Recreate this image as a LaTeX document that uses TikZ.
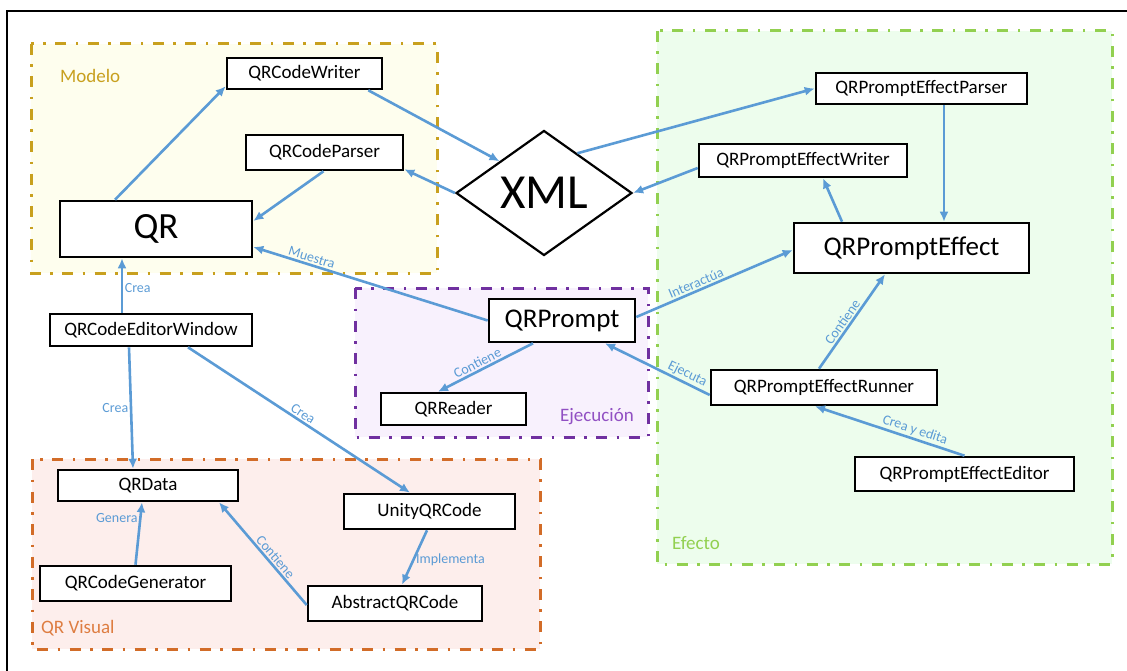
\documentclass[tikz,border=0pt]{standalone}
\usepackage{fontspec}
\setmainfont{Carlito}
\usetikzlibrary{shapes.geometric,arrows.meta,calc}

\definecolor{linkC}{RGB}{91,155,213}
\definecolor{modelD}{RGB}{200,160,30}
\definecolor{modelF}{RGB}{254,254,238}
\definecolor{efectD}{RGB}{146,208,80}
\definecolor{efectF}{RGB}{237,253,237}
\definecolor{ejecD}{RGB}{112,48,160}
\definecolor{ejecT}{RGB}{145,80,195}
\definecolor{ejecF}{RGB}{248,241,253}
\definecolor{visD}{RGB}{210,108,40}
\definecolor{visT}{RGB}{222,125,65}
\definecolor{visF}{RGB}{253,238,236}

\begin{document}
\begin{tikzpicture}[x=1pt,y=-1pt,
  grp/.style={line width=3pt, dash pattern=on 11pt off 9.5pt on 2.5pt off 9.5pt},
  cls/.style={draw=black, line width=2.6pt, fill=white, inner sep=0pt,
              font=\fontsize{19}{22}\selectfont},
  big/.style={cls, font=\fontsize{27}{30}\selectfont},
  grplab/.style={font=\fontsize{19}{22}\selectfont, inner sep=0pt},
  link/.style={draw=linkC, line width=2.6pt, -{Latex[length=10pt,width=9pt]}},
  lab/.style={font=\fontsize{14}{16}\selectfont, text=linkC, inner sep=1.5pt}]

\useasboundingbox (0,0) rectangle (1127,671);

% outer frame
\draw[line width=2.5pt] (7,671) -- (7,11) -- (1127,11);

% package groups
\draw[grp, draw=modelD, fill=modelF] (31,44) rectangle (437,273);
\draw[grp, draw=efectD, fill=efectF] (657,31) rectangle (1112,564);
\draw[grp, draw=ejecD, fill=ejecF] (355,288) rectangle (648,437);
\draw[grp, draw=visD, fill=visF] (32,459) rectangle (540,649);

\node[grplab, text=modelD, anchor=west] at (60,76) {Modelo};
\node[grplab, text=efectD, anchor=west] at (672,543) {Efecto};
\node[grplab, text=ejecT, anchor=east] at (634,417) {Ejecución};
\node[grplab, text=visT, anchor=west] at (41,628) {QR Visual};

% classes
\node[cls, minimum width=155pt, minimum height=31pt] (writer) at (304.5,73.5) {QRCodeWriter};
\node[cls, minimum width=157pt, minimum height=35pt] (parser) at (324.5,152.5) {QRCodeParser};
\node[cls, minimum width=192pt, minimum height=56pt, font=\fontsize{37}{40}\selectfont] (qr) at (156,229) {QR};
\node[draw=black, line width=2.2pt, fill=white, diamond, aspect=1.4, inner sep=0pt,
      minimum width=176pt, minimum height=125pt, font=\fontsize{49}{52}\selectfont] (xml) at (544,193) {XML};

\node[cls, minimum width=211pt, minimum height=31pt] (epParser) at (921.5,88.5) {QRPromptEffectParser};
\node[cls, minimum width=208pt, minimum height=33pt] (epWriter) at (803,160.5) {QRPromptEffectWriter};
\node[big, minimum width=235pt, minimum height=50pt] (effect) at (911.5,248) {QRPromptEffect};
\node[cls, minimum width=226pt, minimum height=35pt] (runner) at (824,387.5) {QRPromptEffectRunner};
\node[cls, minimum width=219pt, minimum height=34pt] (editor) at (964.5,474) {QRPromptEffectEditor};

\node[big, minimum width=146pt, minimum height=43pt] (prompt) at (562,320.5) {QRPrompt};
\node[cls, minimum width=145pt, minimum height=32pt] (reader) at (453.5,409) {QRReader};

\node[cls, minimum width=202pt, minimum height=32pt] (window) at (151,330) {QRCodeEditorWindow};
\node[cls, minimum width=180pt, minimum height=31pt] (data) at (148,485.5) {QRData};
\node[cls, minimum width=191pt, minimum height=35pt] (gen) at (135.5,583.5) {QRCodeGenerator};
\node[cls, minimum width=171pt, minimum height=35pt] (unity) at (429.5,511.5) {UnityQRCode};
\node[cls, minimum width=174pt, minimum height=35pt] (abstract) at (395,603.5) {AbstractQRCode};

% relations in the model
\draw[link] ([xshift=-41pt]qr.north) -- ([yshift=4pt]writer.south west);
\draw[link] ([xshift=-1pt]parser.south) -- ([yshift=8pt]qr.east);
\draw[link] ([xshift=-15pt]writer.south east) -- (xml.north west);
\draw[link] (xml.west) -- ([yshift=2pt]parser.south east);

% relations in the effect package
\draw[link] ($(xml.north)!0.375!(xml.east)$) -- (epParser.west);
\draw[link] ([yshift=-7.5pt]epWriter.west) -- (xml.east);
\draw[link] ([xshift=22.5pt]epParser.south) -- ([xshift=32.5pt]effect.north);
\draw[link] ([xshift=-69.5pt]effect.north) -- ([xshift=20pt]epWriter.south);
\draw[link] ([xshift=-5pt]runner.north) -- node[lab, sloped, above, pos=0.45] {Contiene} ([xshift=-26.5pt]effect.south);
\draw[link] (editor.north) -- node[lab, sloped, above, pos=0.35] {Crea y edita} ([xshift=-9pt]runner.south);

% execution
\draw[link] ([yshift=-7.5pt]runner.west) -- node[lab, sloped, above, pos=0.25] {Ejecuta} ([xshift=43pt]prompt.south);
\draw[link] ([yshift=3.5pt]prompt.east) -- node[lab, sloped, above, pos=0.4] {Interactúa} ([yshift=-2pt]effect.west);
\draw[link] (prompt.west) -- node[lab, sloped, above, pos=0.76] {Muestra} ([yshift=-18pt]qr.east);
\draw[link] ([xshift=-29pt]prompt.south) -- node[lab, sloped, above, pos=0.55] {Contiene} ([xshift=-15.5pt]reader.north);

% editor window and visual representation
\draw[link] ([xshift=-29pt]window.north) -- node[lab, right, pos=0.45] {Crea} ([xshift=-34pt]qr.south);
\draw[link] ([xshift=-22pt]window.south) -- node[lab, left, pos=0.5] {Crea} ([xshift=-15pt]data.north);
\draw[link] ([xshift=37pt]window.south) -- node[lab, sloped, above, pos=0.5] {Crea} ([xshift=-19.5pt]unity.north);
\draw[link] ([xshift=-2.5pt]unity.south) -- node[lab, right, pos=0.55] {Implementa} ([xshift=7pt]abstract.north);
\draw[link] (gen.north) -- node[lab, left, pos=0.75] {Genera} ([xshift=-6pt]data.south);
\draw[link] ([yshift=-1.5pt]abstract.west) -- node[lab, sloped, above, pos=0.42] {Contiene} ([xshift=71pt]data.south);

\end{tikzpicture}
\end{document}
